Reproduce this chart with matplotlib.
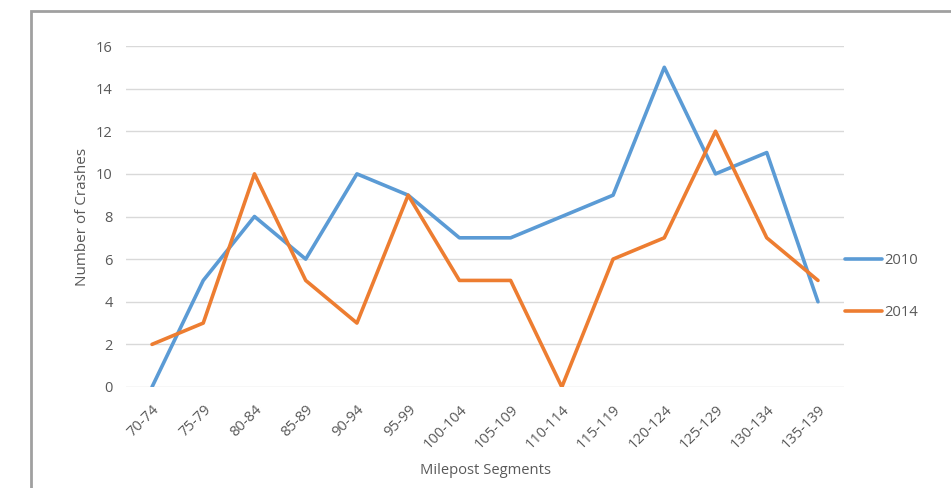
import matplotlib
matplotlib.use("Agg")
import matplotlib.pyplot as plt
from matplotlib.patches import Rectangle

segments = ["70-74", "75-79", "80-84", "85-89", "90-94", "95-99", "100-104",
            "105-109", "110-114", "115-119", "120-124", "125-129", "130-134", "135-139"]
crashes_2010 = [0, 5, 8, 6, 10, 9, 7, 7, 8, 9, 15, 10, 11, 4]
crashes_2014 = [2, 3, 10, 5, 3, 9, 5, 5, 0, 6, 7, 12, 7, 5]
y_ticks = [0, 2, 4, 6, 8, 10, 12, 14, 16]

plt.rcParams['font.family'] = ['Open Sans', 'DejaVu Sans']
text_color = '#595959'

W, H = 951, 488
fig = plt.figure(figsize=(W / 100, H / 100), dpi=100)
ax = fig.add_axes([126.4 / W, 1 - 387 / H, (843.6 - 126.4) / W, 341 / H])

x = list(range(len(segments)))
ax.plot(x, crashes_2010, color='#5B9BD5', lw=2.6, label='2010', solid_joinstyle='round', solid_capstyle='round')
ax.plot(x, crashes_2014, color='#ED7D31', lw=2.6, label='2014', solid_joinstyle='round', solid_capstyle='round')

ax.set_xlim(-0.5, len(segments) - 0.5)
ax.set_ylim(0, 16)
ax.set_yticks(y_ticks)
ax.set_xticks(x)
ax.set_xticklabels(segments, rotation=45, ha='right', va='top', rotation_mode='anchor')
ax.grid(axis='y', color='#d9d9d9', lw=1)
ax.set_axisbelow(True)
for s in ax.spines.values():
    s.set_visible(False)
ax.tick_params(length=0, labelsize=10.5, colors=text_color)
ax.tick_params(axis='y', pad=10)
ax.tick_params(axis='x', pad=11)

ax.set_ylabel('Number of Crashes', fontsize=11, color=text_color, labelpad=4)
ax.set_xlabel('Milepost Segments', fontsize=10.6, color=text_color, labelpad=8)

fig.legend(loc='center left', bbox_to_anchor=(845 / W, 1 - 286.5 / H),
           frameon=False, fontsize=10.6, labelcolor=text_color,
           handlelength=2.5, handletextpad=0.15, labelspacing=2.5,
           borderpad=0, borderaxespad=0)

fig.patches.append(Rectangle((31 / W, -0.05), 2, 1.05 - 11 / H,
                             transform=fig.transFigure, fill=False,
                             edgecolor='#a0a0a0', lw=2))

fig.savefig('out.png', dpi=100)
